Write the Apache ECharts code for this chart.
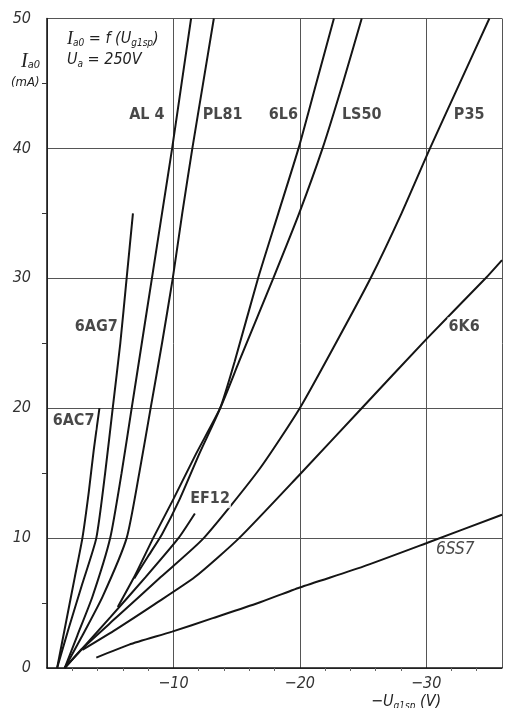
<!DOCTYPE html>
<html>
<head>
<meta charset="utf-8">
<script src="https://cdn.jsdelivr.net/npm/echarts@6/dist/echarts.min.js"></script>
<style>
  html, body { margin: 0; padding: 0; background: #fff; }
  #main { width: 505px; height: 708px; }
</style>
</head>
<body>
<div id="main"></div>
<script>
// -Ug1sp (V) magnitude, Ia0 (mA)
const tube6AC7 = [[0.8, 0], [1.5, 3.5], [2.2, 7], [2.8, 10], [3.3, 13.5], [3.7, 16.8], [4.15, 20]];
const tube6AG7 = [[0.8, 0], [1.7, 3], [2.8, 6.5], [3.9, 10], [4.6, 15], [5.2, 20], [5.8, 25], [6.3, 30], [6.8, 35]];
const tubeAL4 = [[1.4, 0], [2.4, 2.5], [3.6, 5.5], [5.0, 10], [5.9, 15], [6.7, 20], [7.5, 25], [8.3, 30], [9.1, 35], [9.9, 40], [10.65, 45], [11.4, 50]];
const tubePL81 = [[1.4, 0], [2.8, 2.5], [4.4, 5.5], [6.3, 10], [7.3, 15], [8.2, 20], [9.1, 25], [9.95, 30], [10.7, 35], [11.5, 40], [12.35, 45], [13.2, 50]];
const tube6L6 = [[6.9, 6.9], [8.0, 8.6], [9.1, 10.3], [10.5, 13], [12.1, 16.6], [13.7, 20], [14.85, 23.6], [16.7, 30], [18.3, 35], [19.9, 40], [21.3, 45], [22.7, 50]];
const tubeLS50 = [[5.6, 4.7], [7.0, 7.2], [8.4, 10], [10.0, 13], [11.8, 16.5], [13.7, 20], [15.2, 23.6], [17.9, 30], [19.95, 35], [21.8, 40], [23.4, 45], [24.9, 50]];
const tubeP35 = [[1.4, 0], [2.8, 1.5], [5.5, 3.9], [9.0, 7.0], [12.4, 10], [16.8, 15.3], [20.0, 20], [22.85, 25], [25.6, 30], [28.05, 35], [30.3, 40], [32.65, 45], [35.0, 50]];
const tubeEF12 = [[1.4, 0], [2.8, 1.5], [5.0, 3.9], [7.8, 7.0], [10.4, 10], [11.7, 11.9]];
const tube6K6 = [[2.8, 1.4], [5.5, 3.0], [8.5, 4.9], [11.7, 7.0], [15.2, 10], [20.0, 14.9], [24.9, 20], [30.0, 25.3], [34.7, 30], [36.0, 31.4]];
const tube6SS7 = [[3.9, 0.8], [6.5, 1.8], [9.9, 2.8], [13.0, 3.8], [16.7, 5.0], [20.0, 6.2], [25.0, 7.8], [30.0, 9.6], [36.0, 11.8]];

const tubeNames = ['6AC7', '6AG7', 'AL4', 'PL81', '6L6', 'LS50', 'P35', 'EF12', '6K6', '6SS7'];
const tubeCurves = [tube6AC7, tube6AG7, tubeAL4, tubePL81, tube6L6, tubeLS50, tubeP35, tubeEF12, tube6K6, tube6SS7];

// curve labels: text and where they sit on the chart
const labelText = ['AL 4', 'PL81', '6L6', 'LS50', 'P35', '6AG7', '6AC7', '6K6', 'EF12', '6SS7'];
const labelPos = [[7.9, 42.6], [13.9, 42.6], [18.7, 42.6], [24.9, 42.6], [33.4, 42.6], [3.9, 26.3], [2.1, 19.0], [33.0, 26.3], [12.9, 13.0], [32.3, 9.1]];

const xTicks = [0, 10, 20, 30];
const yTicks = [0, 10, 20, 30, 40, 50];

const narrow = '"Liberation Sans Narrow", "DejaVu Sans Condensed", sans-serif';

const sub = { fontSize: 10, fontStyle: 'italic', fontWeight: 'normal', fontFamily: narrow, color: '#222', verticalAlign: 'bottom', lineHeight: 12 };
const big = { fontSize: 18, fontStyle: 'italic', fontWeight: 'normal', fontFamily: 'Liberation Serif, serif', color: '#222', lineHeight: 18 };
const norm = { fontSize: 16, fontStyle: 'italic', fontWeight: 'normal', fontFamily: narrow, color: '#222', lineHeight: 18 };
const richStyle = { i: big, s: sub, n: norm };
const richBig = { i: { ...big, fontSize: 20 }, s: { ...sub, fontSize: 11 } };

const lineSeries = tubeCurves.map((pts, k) => ({
  name: tubeNames[k],
  type: 'line',
  data: pts,
  smooth: 0.2,
  showSymbol: false,
  silent: true,
  lineStyle: { color: '#151515', width: 2 },
  z: 3
}));

const labelSeries = {
  type: 'scatter',
  symbolSize: 0,
  silent: true,
  data: labelPos.map((p, k) => ({ value: p, name: labelText[k] })),
  label: {
    show: true,
    position: 'inside',
    formatter: (p) => p.name,
    fontFamily: narrow,
    fontWeight: 'bold',
    fontSize: 16,
    color: '#1a1a1a',
    backgroundColor: '#fff',
    padding: [1, 1]
  },
  labelLayout: { hideOverlap: false },
  z: 5
};
labelSeries.data[9].label = { fontStyle: 'italic', fontWeight: 'normal', fontSize: 17, backgroundColor: 'transparent' };

const chart = echarts.init(document.getElementById('main'));
chart.setOption({
  backgroundColor: '#fff',
  animation: false,
  title: [
    { text: '{i|I}{s|a0}{n| = f (U}{s|g1sp}{n|)}', left: 62, top: 25, textStyle: { fontWeight: 'normal', rich: richStyle } },
    { text: '{n|U}{s|a}{n| = 250V}', left: 62, top: 46, textStyle: { fontWeight: 'normal', rich: richStyle } },
    { text: '{i|I}{s|a0}', left: 16, top: 48, textStyle: { fontWeight: 'normal', rich: richBig } },
    { text: '(mA)', left: 6, top: 71, textStyle: { fontWeight: 'normal', fontSize: 13, fontStyle: 'italic', fontFamily: narrow, color: '#222' } },
    { text: '{n|−U}{s|g1sp}{n| (V)}', left: 366, top: 688, textStyle: { fontWeight: 'normal', rich: richStyle } }
  ],
  grid: { left: 47, top: 18.5, width: 460, height: 649.5, containLabel: false },
  xAxis: {
    type: 'value',
    min: 0,
    max: 36,
    interval: 10,
    axisLine: { show: true, lineStyle: { color: '#111', width: 1.5 } },
    axisTick: { show: false },
    minorTick: { show: true, splitNumber: 5, length: 3, lineStyle: { color: '#666' } },
    axisLabel: {
      formatter: (v) => (xTicks.includes(v) && v !== 0 ? '−' + v : ''),
      fontFamily: narrow, fontStyle: 'italic', fontSize: 16, color: '#333', margin: 8
    },
    splitLine: { show: true, lineStyle: { color: '#555', width: 1 } }
  },
  yAxis: [
    {
      type: 'value',
      min: 0,
      max: 50,
      interval: 10,
      axisLine: { show: true, lineStyle: { color: '#111', width: 1.5 } },
      axisTick: { show: false },
      axisLabel: {
        formatter: (v) => (yTicks.includes(v) ? String(v) : ''),
        fontFamily: narrow, fontStyle: 'italic', fontSize: 16, color: '#333', margin: 16
      },
      splitLine: { show: true, lineStyle: { color: '#555', width: 1 } }
    },
    {
      // only carries the short inward half-step ticks on the left edge
      type: 'value',
      position: 'right',
      offset: -460,
      min: 0,
      max: 50,
      interval: 10,
      axisLine: { show: false },
      axisTick: { show: false },
      axisLabel: { show: false },
      splitLine: { show: false },
      minorTick: { show: true, splitNumber: 2, length: 5, lineStyle: { color: '#333' } }
    }
  ],
  series: lineSeries.concat([labelSeries])
});
window.onresize = function() {
  chart.resize();
};
</script>
</body>
</html>
